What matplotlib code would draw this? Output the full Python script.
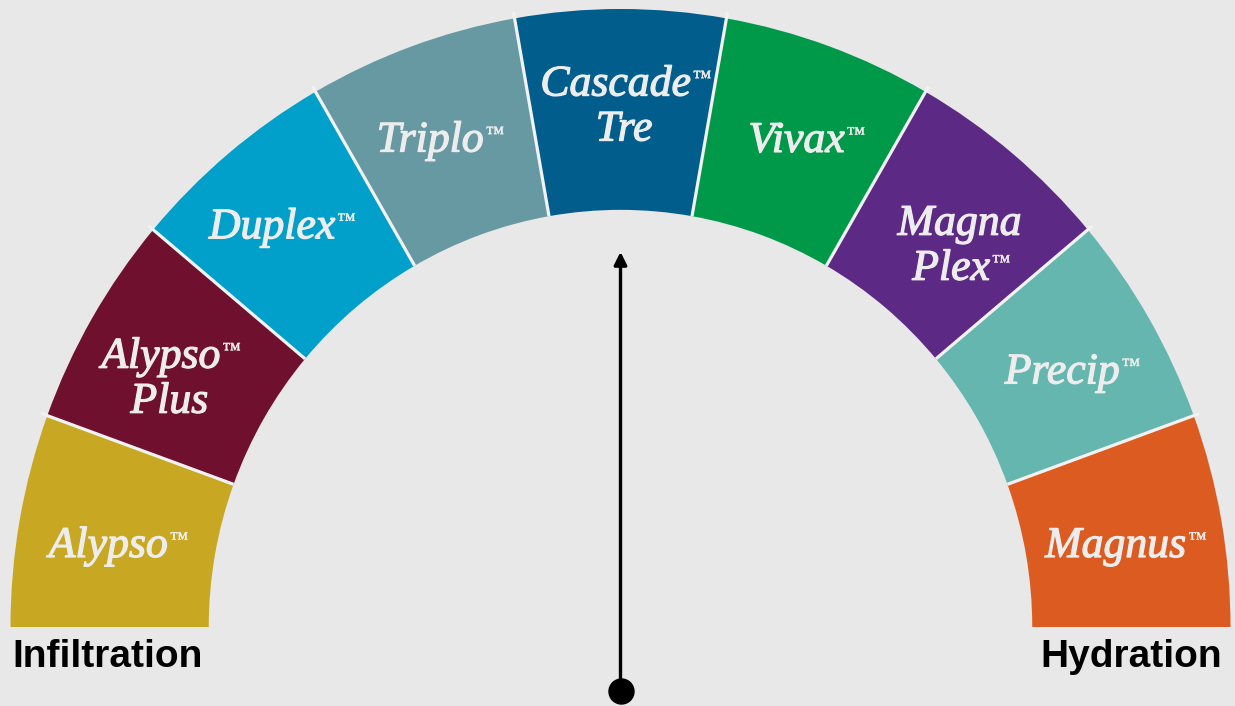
import matplotlib
matplotlib.use("Agg")
import matplotlib.pyplot as plt
import matplotlib.patheffects as pe
import numpy as np

# ---- data ----
products = ["Alypso™", "Alypso™\nPlus", "Duplex™", "Triplo™", "Cascade™\nTre",
            "Vivax™", "Magna\nPlex™", "Precip™", "Magnus™"]
colors = ["#C8A822", "#6F102F", "#00A0CA", "#6799A3", "#005D8C",
          "#00994A", "#5C2985", "#65B6AE", "#DC5B21"]
shares = [1, 1, 1, 1, 1, 1, 1, 1, 1]
scale_ends = ["Infiltration", "Hydration"]
needle_value = 4.5          # position on the 0..9 scale (centre of Cascade Tre)

# ---- layout (label anchor: angle in degrees, radius as fraction of outer) ----
label_angle = [170.6, 151.2, 130.5, 110.6, 89.6, 69.1, 48.2, 29.5, 9.4]
label_radius = [0.837, 0.844, 0.858, 0.847, 0.847, 0.848, 0.834, 0.848, 0.837]

BG = "#E8E8E8"
TXT = "#EDEDED"
SEP = "#F2F2F2"

fig = plt.figure(figsize=(12.35, 7.06), dpi=100, facecolor=BG)
ax = fig.add_axes([0, 0, 1, 1])
ax.set_facecolor(BG)

inner = 0.675
wedges, _ = ax.pie(shares + [sum(shares)], colors=colors + ["none"],
                   startangle=180, counterclock=False, radius=1.0,
                   wedgeprops=dict(width=1 - inner, linewidth=0))
wedges[-1].set_visible(False)

# pixel-matched limits (slightly elliptical like the reference)
Sx, Sy = 610.0, 618.0
cx, cy = 620.5, 627.0
ax.set_aspect("auto")
ax.set_xlim(-cx / Sx, (1235 - cx) / Sx)
ax.set_ylim(-(706 - cy) / Sy, cy / Sy)
ax.axis("off")

total = sum(shares)
step = 180.0 / total

# separators between segments
edges = np.cumsum([0] + shares)[1:-1]
for e in edges:
    a = np.radians(180 - e * step)
    ax.plot([inner * np.cos(a), 1.01 * np.cos(a)], [inner * np.sin(a), 1.01 * np.sin(a)],
            color=SEP, lw=2.3, solid_capstyle="butt", zorder=3)

# ---- segment labels ----
line_gap = 45 / Sy
cap_h = 29 / Sy
tm_shift = 0.014
serif = dict(family="Liberation Serif", style="italic", weight="normal")
stroke = [pe.withStroke(linewidth=0.9, foreground=TXT)]
tm_stroke = [pe.withStroke(linewidth=0.3, foreground=TXT)]
for lab, ang_d, rr in zip(products, label_angle, label_radius):
    x0 = rr * np.cos(np.radians(ang_d))
    y0 = rr * np.sin(np.radians(ang_d))
    lines = lab.split("\n")
    k = len(lines)
    for i, ln in enumerate(lines):
        yb = y0 - cap_h / 2 + ((k - 1) / 2 - i) * line_gap
        tm = ln.endswith("™")
        word = ln.rstrip("™")
        x = x0 - (tm_shift if tm else 0)
        t = ax.text(x, yb, word, ha="center", va="baseline", color=TXT,
                    fontsize=31.5, path_effects=stroke, zorder=4, **serif)
        if tm:
            ax.annotate("™", xy=(1.0, yb + 12.5 / Sy), xycoords=(t, "data"),
                        xytext=(1.5, 0), textcoords="offset points",
                        ha="left", va="baseline", color=TXT, fontsize=13.5,
                        family="Liberation Serif", path_effects=tm_stroke, zorder=4)

# ---- needle ----
ang = np.radians(180 - needle_value * step)
tip = 0.607
base_y = -(691 - cy) / Sy
ax.annotate("", xy=(tip * np.cos(ang), tip * np.sin(ang)), xytext=(0, base_y),
            arrowprops=dict(arrowstyle="-|>", color="black", lw=2.4,
                            mutation_scale=19, shrinkA=0, shrinkB=0))
ax.plot([0], [base_y], "o", color="black", ms=18, zorder=5)

# ---- scale ends ----
ybase = -(667 - cy) / Sy
ax.text((12 - cx) / Sx, ybase, scale_ends[0], ha="left", va="baseline",
        fontsize=28, fontweight="bold", family="Liberation Sans", color="black")
ax.text((1222 - cx) / Sx, ybase, scale_ends[1], ha="right", va="baseline",
        fontsize=28, fontweight="bold", family="Liberation Sans", color="black")

fig.savefig("out.png", dpi=100, facecolor=BG)
